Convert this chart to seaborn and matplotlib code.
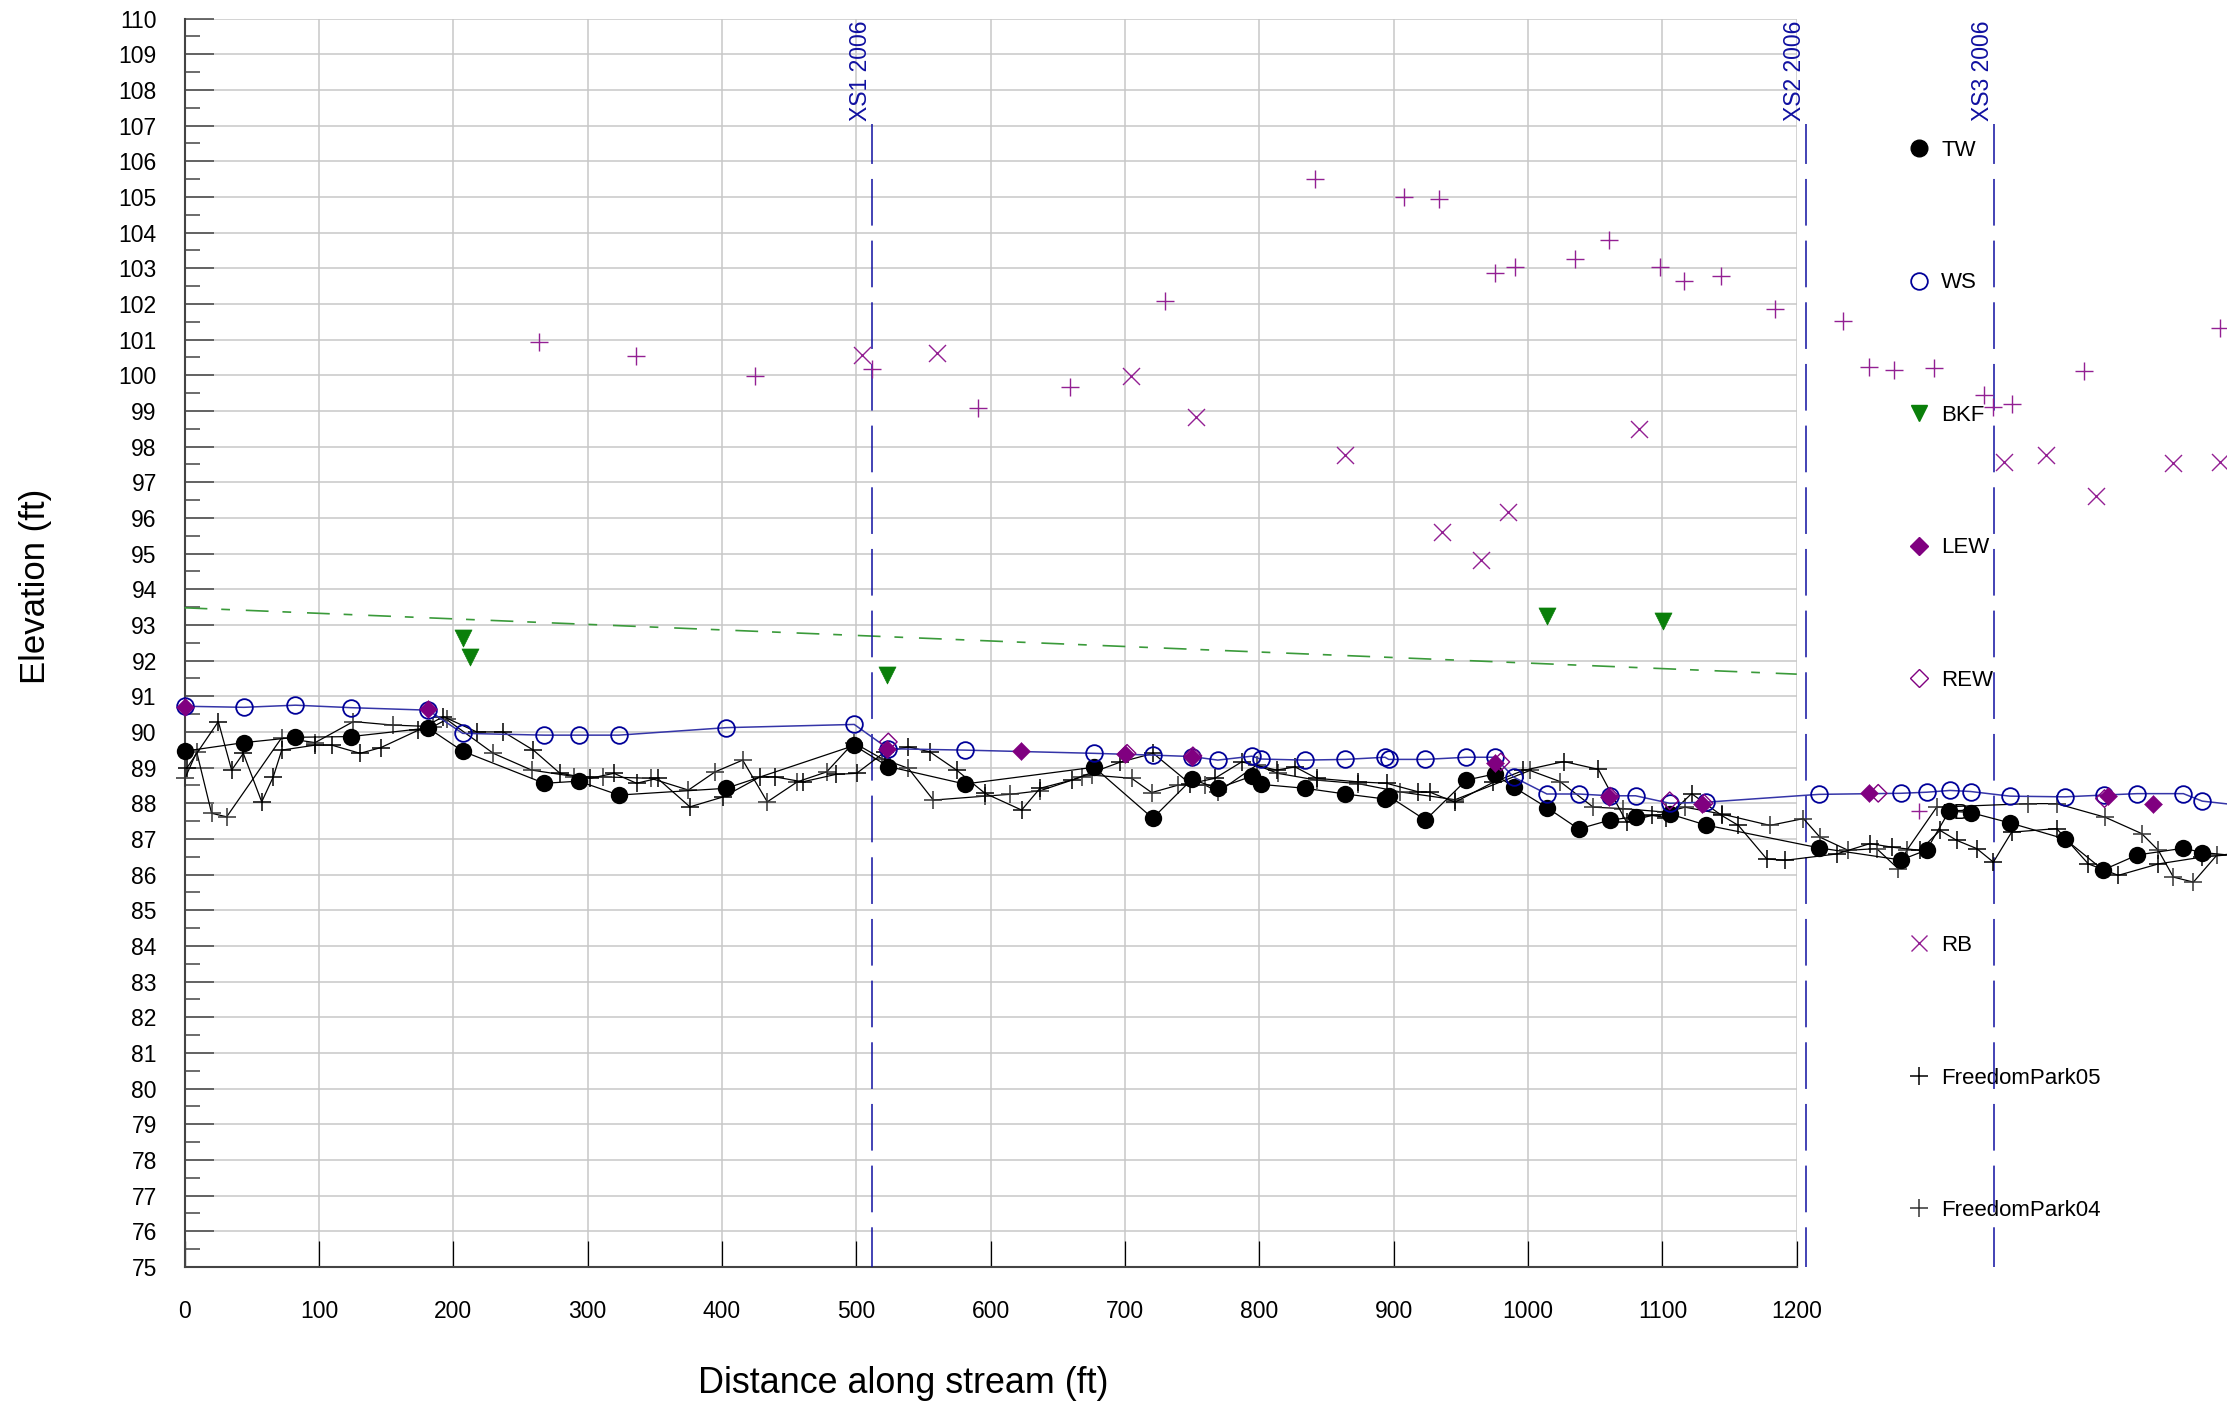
import numpy as np
import pandas as pd
import matplotlib
matplotlib.use("Agg")
import matplotlib.pyplot as plt
from matplotlib.lines import Line2D
import seaborn as sns

# ---------------- data (ft) ----------------
tw_x = [0, 44.1, 82.5, 123.8, 181.3, 207, 267.7, 293.3, 323.2, 403.2, 498.4, 523.8, 580.7, 677, 720.6,
        749.7, 769, 794.4, 801, 834, 864, 893.5, 896.2, 923.6, 954, 975, 989.4, 1014, 1037.6, 1061,
        1080, 1105.4, 1132.3, 1216.5, 1277.5, 1296.6, 1313.4, 1329.3, 1358.6, 1399.5, 1428, 1453.4,
        1487.7, 1501.8, 1535]
tw_y = [89.46, 89.70, 89.85, 89.87, 90.11, 89.46, 88.56, 88.62, 88.23, 88.42, 89.62, 89.03, 88.54, 89.01, 87.58,
        88.67, 88.42, 88.76, 88.53, 88.42, 88.26, 88.12, 88.20, 87.53, 88.65, 88.82, 88.45, 87.88, 87.28, 87.53,
        87.62, 87.70, 87.39, 86.75, 86.41, 86.69, 87.78, 87.74, 87.45, 87.00, 86.13, 86.55,
        86.74, 86.62, 86.5]

ws_x = [0, 44.1, 82.5, 123.8, 181.3, 207, 267.7, 293.3, 323.2, 403.2, 498.4, 523.8, 580.7, 677, 720.6,
        749.7, 769, 794.4, 801, 834, 864, 893.5, 896.2, 923.6, 954, 975, 989.4, 1014, 1037.6, 1061,
        1080, 1105.4, 1132.3, 1216.5, 1277.5, 1296.6, 1314, 1329.3, 1358.6, 1399.5, 1428.5, 1453.4,
        1487.7, 1501.8, 1540]
ws_y = [90.72, 90.69, 90.75, 90.68, 90.61, 89.96, 89.91, 89.91, 89.91, 90.12, 90.21, 89.53, 89.49, 89.40, 89.35,
        89.31, 89.21, 89.32, 89.24, 89.21, 89.23, 89.29, 89.23, 89.23, 89.29, 89.29, 88.73, 88.26, 88.26, 88.21,
        88.21, 88.00, 88.03, 88.25, 88.28, 88.31, 88.36, 88.33, 88.20, 88.18, 88.23, 88.27,
        88.27, 88.06, 87.90]

bkf_x = [207.2, 212.3, 522.9, 1014, 1100.7]
bkf_y = [92.64, 92.10, 91.60, 93.24, 93.12]
bkf_trend_x = [0, 1200]
bkf_trend_y = [93.48, 91.62]

lew_x = [0, 181.3, 523, 622.3, 700.3, 749.7, 975, 1059.9, 1129.3, 1253.7, 1431.9, 1464.9]
lew_y = [90.70, 90.63, 89.53, 89.46, 89.38, 89.31, 89.14, 88.18, 87.98, 88.28, 88.21, 87.98]

rew_x = [523.8, 701.5, 750.5, 979.7, 1061, 1105.4, 1131, 1260.6, 1429]
rew_y = [89.72, 89.40, 89.33, 89.16, 88.20, 88.07, 88.00, 88.28, 88.13]

lb_x = [264.0, 335.9, 424.9, 511.3, 590.7, 659.2, 729.8, 841.7, 907.5, 933.6, 975.1, 990.1, 1034.9,
        1060.5, 1098.0, 1115.8, 1143.9, 1183.4, 1234.6, 1253.7, 1272.1, 1301.8, 1339.2, 1346.1,
        1360.3, 1414.0, 1515.0]
lb_y = [100.93, 100.54, 99.97, 100.17, 99.07, 99.67, 102.08, 105.51, 105.0, 104.93, 102.87, 103.04, 103.25,
        103.78, 103.04, 102.64, 102.79, 101.85, 101.51, 100.23, 100.16, 100.21, 99.44, 99.11,
        99.20, 100.12, 101.31]

rb_x = [504.2, 559.8, 704.3, 752.8, 863.5, 936.0, 965.3, 985.2, 1082.5, 1354.2, 1385.5, 1422.6, 1480.0, 1515.0]
rb_y = [100.56, 100.61, 99.98, 98.83, 97.76, 95.60, 94.81, 96.17, 98.50, 97.57, 97.76, 96.60, 97.54, 97.57]

fp05_x = [1.5, 25.1, 35, 43.7, 57.4, 66, 72.3, 97.1, 109.5, 130.6, 146, 174, 192.6, 217.4, 237.3,
          259.6, 279.4, 302, 319.6, 336.4, 352, 376.1, 401, 428.3, 439.4, 460, 484.8, 500.2, 521.3, 538.7,
          554.8, 574.6, 595.7, 623, 636.7, 660.2, 696.2, 721, 748.3, 766.9, 786.8, 812.8, 826.5, 842.6, 873.6,
          894.7, 918.3, 927, 945.6, 974.1, 996.4, 1026.7, 1052.3, 1073.3, 1092, 1103, 1121.7, 1144, 1156.5,
          1177.6, 1191.2, 1229.7, 1254.5, 1270.6, 1291.7, 1306.6, 1319, 1333.9, 1346.3, 1359.9, 1393.4,
          1417, 1439.3, 1469.1, 1501.4, 1535]
fp05_y = [88.98, 90.29, 88.93, 89.40, 88.04, 88.74, 89.49, 89.63, 89.63, 89.40, 89.56, 90.05, 90.43, 90.00, 90.00,
          89.49, 88.84, 88.70, 88.84, 88.56, 88.70, 87.90, 88.18, 88.74, 88.74, 88.60, 88.81, 88.84, 89.44, 89.58,
          89.44, 88.93, 88.28, 87.81, 88.42, 88.65, 89.15, 89.40, 88.55, 88.70, 89.16, 88.93, 89.02, 88.70, 88.60,
          88.56, 88.32, 88.31, 88.03, 88.59, 88.92, 89.17, 88.95, 87.47, 87.66, 87.60, 88.27, 87.66, 87.38,
          86.44, 86.40, 86.58, 86.87, 86.77, 86.68, 87.24, 86.96, 86.73, 86.35, 87.19, 87.29,
          86.30, 85.98, 86.30, 86.49, 86.6]

fp04_x = [0.3, 9, 20.1, 31.3, 72.3, 97.1, 125.6, 155.4, 185, 195, 229.8, 258.3, 290, 311.6, 347,
          375, 394.8, 415.4, 433.7, 456, 477.9, 498, 519, 538.7, 557.3, 595.7, 614.3, 636.7, 667.7, 675.6,
          704.9, 719.8, 739.6, 759.5, 769.4, 797.9, 813.6, 842.6, 873.6, 904.6, 945.6, 1001.4, 1023.7, 1048.5,
          1070.9, 1103, 1116.8, 1144, 1180, 1204.9, 1217.2, 1238.3, 1259.4, 1275.6, 1281.8, 1304.1, 1372.3,
          1393.4, 1429.4, 1456.7, 1469.1, 1480.3, 1495.2, 1512.5, 1530]
fp04_y = [88.70, 89.44, 87.72, 87.62, 89.84, 89.70, 90.29, 90.19, 90.15, 90.35, 89.40, 88.93, 88.75, 88.74, 88.70,
          88.37, 88.88, 89.21, 88.04, 88.60, 88.88, 89.70, 89.25, 88.98, 88.09, 88.20, 88.25, 88.35, 88.74, 88.79,
          88.70, 88.30, 88.51, 88.51, 88.32, 89.07, 88.84, 88.65, 88.55, 88.32, 88.10, 88.92, 88.61, 87.89,
          87.85, 87.75, 87.89, 87.70, 87.38, 87.57, 87.05, 86.68, 86.73, 86.16, 86.68, 87.89, 87.99,
          87.99, 87.61, 87.15, 86.68, 85.93, 85.79, 86.54, 86.6]

xs_pos = [511.7, 1207.0, 1347.0]
xs_labels = ["XS1 2006", "XS2 2006", "XS3 2006"]
xs_top = 107.05

x_ticks = list(range(0, 1201, 100))
y_ticks = list(range(75, 111))
legend_labels = ["TW", "WS", "BKF", "LEW", "REW", "LB", "RB", "FreedomPark05", "FreedomPark04"]

# ---------------- style ----------------
sns.set_theme(style="white")
plt.rcParams["font.family"] = ["Liberation Sans", "DejaVu Sans"]
plt.rcParams["lines.scale_dashes"] = False
plt.rcParams["text.color"] = "black"
plt.rcParams["axes.labelcolor"] = "black"

NAVY = "#000099"
WSLINE = "#3535a8"
PURPLE = "#800080"
MAG = "#931f93"
GREEN = "#0a7f0a"
GREEN_L = "#3a9a3a"

fig = plt.figure(figsize=(22.27, 14.08), dpi=100)
ax = fig.add_axes([0.08289, 0.10014, 0.72394, 0.88672])

# ---------------- series ----------------
common = dict(ax=ax, estimator=None, sort=False, legend=False, clip_on=False)

sns.lineplot(x=fp04_x, y=fp04_y, color="black", lw=0.9, marker="+", ms=13, mew=1.1,
             mec="#333333", zorder=3, **common)
sns.lineplot(x=fp05_x, y=fp05_y, color="black", lw=0.9, marker="+", ms=13, mew=1.1,
             mec="black", zorder=3.1, **common)
sns.lineplot(x=tw_x, y=tw_y, color="black", lw=0.9, marker="o", ms=12.5, mew=0,
             mfc="black", mec="black", zorder=3.2, **common)
sns.lineplot(x=ws_x, y=ws_y, color=WSLINE, lw=1.1, marker="o", ms=12, mew=1.3,
             mfc="none", mec=NAVY, zorder=3.3, **common)
sns.lineplot(x=bkf_trend_x, y=bkf_trend_y, color=GREEN_L, lw=1.2,
             linestyle=(0, (16.4, 10, 6.3, 11.4)), zorder=2.8, **common)

sc = dict(ax=ax, legend=False, clip_on=False)
sns.scatterplot(x=bkf_x, y=bkf_y, marker="v", s=150, color=GREEN, edgecolor=GREEN, linewidth=0.5, zorder=3.4, **sc)
sns.scatterplot(x=rew_x, y=rew_y, marker="D", s=80, color="none", edgecolor=PURPLE, linewidth=1.0, zorder=3.45, **sc)
sns.scatterplot(x=lew_x, y=lew_y, marker="D", s=85, color=PURPLE, edgecolor=PURPLE, linewidth=0.3, zorder=3.5, **sc)
sns.scatterplot(x=lb_x, y=lb_y, marker="+", s=150, color=MAG, linewidth=1.0, zorder=3.6, **sc)
sns.scatterplot(x=rb_x, y=rb_y, marker="x", s=150, color=MAG, linewidth=1.0, zorder=3.6, **sc)

# cross-section reference lines
for xp, lab in zip(xs_pos, xs_labels):
    ax.plot([xp, xp], [75, xs_top], color="#1010a0", lw=1.1,
            linestyle=(5, (33.6, 10.8)), clip_on=False, zorder=2.9)
    ax.annotate(lab, xy=(xp, xs_top), xytext=(-8.5, 2), textcoords="offset points",
                rotation=90, ha="center", va="bottom", color="#1010a0", fontsize=16.5,
                annotation_clip=False)

# ---------------- axes ----------------
ax.set_xlim(0, 1200)
ax.set_ylim(75, 110)
ax.set_xticks(x_ticks)
ax.set_yticks(y_ticks)
ax.set_yticks(np.arange(75.5, 110, 1.0), minor=True)
ax.grid(True, which="major", color="#c8c8c8", lw=1.1)
ax.set_axisbelow(True)
for s in ["top", "right"]:
    ax.spines[s].set_visible(False)
for s in ["left", "bottom"]:
    ax.spines[s].set_color("#444444")
    ax.spines[s].set_linewidth(1.5)

ax.tick_params(axis="x", which="major", direction="in", length=18.5, width=0.9,
               color="black", pad=24, labelsize=16.5, labelcolor="black", bottom=True, top=False)
ax.tick_params(axis="x", which="minor", bottom=False, top=False)
ax.tick_params(axis="y", which="major", direction="in", length=21, width=1.1,
               color="#444444", pad=20, labelsize=16.5, labelcolor="black", left=True, right=False)
ax.tick_params(axis="y", which="minor", direction="in", length=10.8, width=1.1,
               color="#444444", left=True, right=False)

ax.set_xlabel("Distance along stream (ft)", fontsize=25.8, color="black")
ax.xaxis.set_label_coords(0.4456, -0.0935)
ax.xaxis.label.set_va("center")
ax.set_ylabel("Elevation (ft)", fontsize=25, color="black")
ax.yaxis.set_label_coords(-0.0925, 0.545)
ax.yaxis.label.set_va("center")
ax.yaxis.label.set_ha("center")

# ---------------- legend ----------------
handles = [
    Line2D([], [], ls="none", marker="o", ms=12, mfc="black", mec="black"),
    Line2D([], [], ls="none", marker="o", ms=12, mfc="none", mec=NAVY, mew=1.3),
    Line2D([], [], ls="none", marker="v", ms=12, mfc=GREEN, mec=GREEN),
    Line2D([], [], ls="none", marker="D", ms=9, mfc=PURPLE, mec=PURPLE),
    Line2D([], [], ls="none", marker="D", ms=9, mfc="none", mec=PURPLE, mew=1.0),
    Line2D([], [], ls="none", marker="+", ms=12, mec=MAG, mew=1.0),
    Line2D([], [], ls="none", marker="x", ms=12, mec=MAG, mew=1.0),
    Line2D([], [], ls="none", marker="+", ms=13, mec="black", mew=1.1),
    Line2D([], [], ls="none", marker="+", ms=13, mec="#333333", mew=1.1),
]
leg = ax.legend(handles, legend_labels, loc="upper left", bbox_to_anchor=(0.8567, 0.9007),
                bbox_transform=fig.transFigure, frameon=False, fontsize=16,
                handlelength=1.0, handletextpad=0.5, labelspacing=5.02,
                borderpad=0, borderaxespad=0)
leg.set_zorder(2.5)

fig.savefig("out.png", dpi=100, facecolor="white")
